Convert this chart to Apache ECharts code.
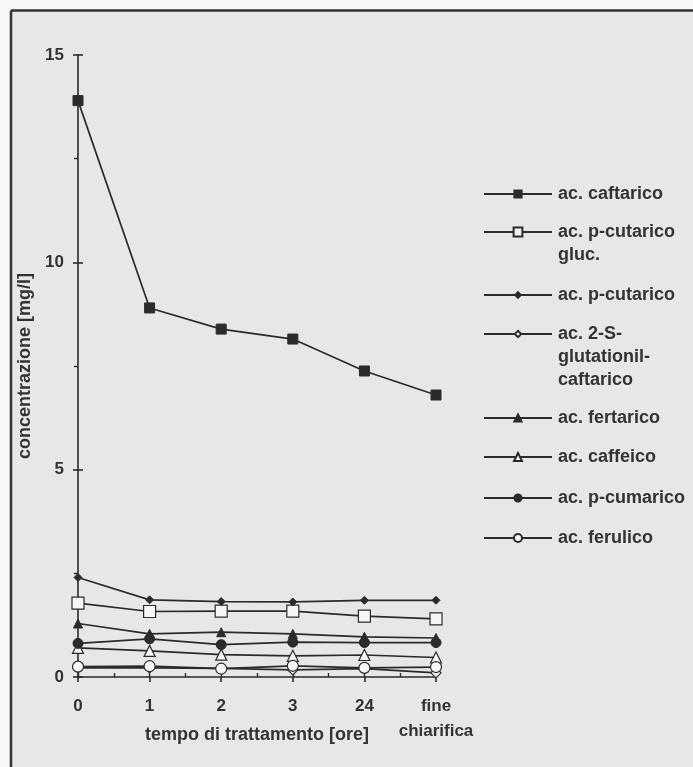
<!DOCTYPE html>
<html>
<head>
<meta charset="utf-8">
<script src="https://cdn.jsdelivr.net/npm/echarts@6/dist/echarts.min.js"></script>
<style>
html,body{margin:0;padding:0;background:#f7f7f7;}
#chart{width:693px;height:767px;}
</style>
</head>
<body>
<div id="chart"></div>
<script>
var categories = ['0', '1', '2', '3', '24', 'fine\nchiarifica'];
var yTicks = [0, 5, 10, 15];

var caftarico      = [13.9, 8.9, 8.39, 8.15, 7.38, 6.8];
var pCutaricoGluc  = [1.78, 1.58, 1.59, 1.59, 1.47, 1.40];
var pCutarico      = [2.40, 1.86, 1.82, 1.81, 1.85, 1.85];
var glutationil    = [0.22, 0.22, 0.21, 0.17, 0.20, 0.10];
var fertarico      = [1.29, 1.04, 1.08, 1.04, 0.97, 0.94];
var caffeico       = [0.70, 0.63, 0.54, 0.51, 0.53, 0.47];
var pCumarico      = [0.81, 0.92, 0.78, 0.84, 0.83, 0.83];
var ferulico       = [0.25, 0.26, 0.20, 0.27, 0.22, 0.24];

var names = ['ac. caftarico', 'ac. p-cutarico\ngluc.', 'ac. p-cutarico', 'ac. 2-S-\nglutationil-\ncaftarico',
             'ac. fertarico', 'ac. caffeico', 'ac. p-cumarico', 'ac. ferulico'];

var INK = '#2b2b2b';
var FONT = '"Liberation Sans", Arial, sans-serif';
var OPEN = '#f6f6f6';

function mk(name, data, symbol, size, filled) {
  return {
    name: name, type: 'line', data: data, xAxisIndex: 0, yAxisIndex: 0,
    symbol: symbol, symbolSize: size, showSymbol: true, showAllSymbol: true,
    lineStyle: { color: INK, width: 1.7 },
    itemStyle: filled ? { color: INK, borderColor: INK, borderWidth: 1 } : { color: OPEN, borderColor: INK, borderWidth: 1.2 },
    emphasis: { disabled: true }
  };
}

var series = [
  mk(names[0], caftarico, 'rect', 10, true),
  mk(names[1], pCutaricoGluc, 'rect', 12, false),
  mk(names[2], pCutarico, 'diamond', 8, true),
  mk(names[3], glutationil, 'diamond', 10, false),
  mk(names[4], fertarico, 'triangle', 9, true),
  mk(names[5], caffeico, 'triangle', 11, false),
  mk(names[6], pCumarico, 'circle', 10, true),
  mk(names[7], ferulico, 'circle', 11, false)
];

// legend symbol centres (y) and item heights
var legendY = [194, 232, 295, 334, 418, 457, 498, 538];
var legendH = [9, 11, 7, 8, 9, 10, 9, 10];
var LH = 23;
var legends = names.map(function (n, i) {
  var lines = n.split('\n').length;
  var blank = lines - 1;
  var total = lines + blank;
  var prefix = '';
  for (var k = 0; k < blank; k++) prefix += ' \n';
  return {
    data: [n], orient: 'vertical', left: 483, padding: 0,
    top: legendY[i] - total * LH / 2,
    itemWidth: 68, itemHeight: legendH[i], selectedMode: false,
    formatter: function (name) { return prefix + name; },
    textStyle: { fontSize: 18, fontWeight: 'bold', color: '#333', fontFamily: FONT, lineHeight: LH, padding: [0, 0, 0, 1] }
  };
});

var chart = echarts.init(document.getElementById('chart'));
chart.setOption({
  animation: false,
  backgroundColor: '#f7f7f7',
  graphic: [
    { type: 'rect', shape: { x: 11, y: 11, width: 700, height: 800 }, style: { fill: '#e7e7e7' }, z: -10, silent: true },
    { type: 'line', shape: { x1: 11, y1: 10.5, x2: 693, y2: 10.5 }, style: { stroke: '#333', lineWidth: 2.5 }, silent: true },
    { type: 'line', shape: { x1: 11, y1: 10.5, x2: 11, y2: 767 }, style: { stroke: '#333', lineWidth: 2.5 }, silent: true }
  ],
  grid: { left: 78, right: 257, top: 55, bottom: 90, containLabel: false },
  legend: legends,
  xAxis: [
    {
      type: 'category', data: categories, boundaryGap: false,
      name: 'tempo di trattamento [ore]', nameLocation: 'middle', nameGap: 49, nameMoveOverlap: false,
      nameTextStyle: { fontSize: 18, fontWeight: 'bold', color: '#333', fontFamily: FONT },
      axisLine: { lineStyle: { color: INK, width: 1.6 } },
      axisTick: { show: true, length: 5, lineStyle: { color: INK, width: 1.6 } },
      axisLabel: { margin: 17, fontSize: 17, fontWeight: 'bold', color: '#333', fontFamily: FONT, lineHeight: 25, interval: 0 },
      splitLine: { show: false }
    },
    {
      type: 'value', min: 0, max: 5, interval: 0.5, position: 'bottom',
      axisLine: { show: false },
      axisTick: { show: true, inside: true, length: 4, lineStyle: { color: INK, width: 1.4 } },
      axisLabel: { show: false }, splitLine: { show: false }
    }
  ],
  yAxis: [
    {
      type: 'value', min: yTicks[0], max: yTicks[yTicks.length - 1], interval: 5,
      name: 'concentrazione [mg/l]', nameLocation: 'middle', nameGap: 41,
      nameTextStyle: { fontSize: 18, fontWeight: 'bold', color: '#333', fontFamily: FONT },
      axisLine: { show: true, lineStyle: { color: INK, width: 1.6 } },
      axisTick: { show: true, length: 5, lineStyle: { color: INK, width: 1.6 } },
      minorTick: { show: true, splitNumber: 2, length: 4, lineStyle: { color: INK, width: 1.4 } },
      axisLabel: { margin: 14, fontSize: 17, fontWeight: 'bold', color: '#333', fontFamily: FONT },
      splitLine: { show: false }
    },
    {
      type: 'value', min: 0, max: 15, interval: 5, position: 'left',
      axisLine: { show: false },
      axisTick: { show: true, inside: true, length: 5, lineStyle: { color: INK, width: 1.6 } },
      axisLabel: { show: false }, splitLine: { show: false }
    }
  ],
  series: series
});
</script>
</body>
</html>
